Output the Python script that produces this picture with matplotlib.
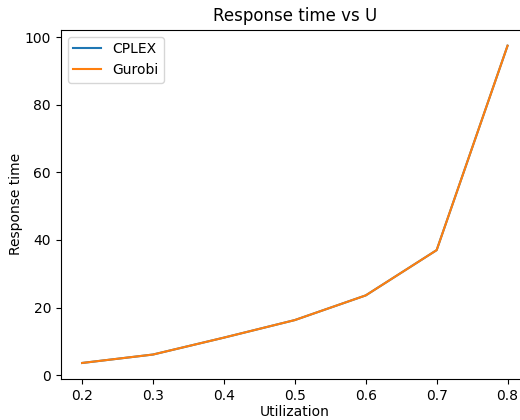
import matplotlib
matplotlib.use("Agg")
import matplotlib.pyplot as plt

# utilization levels and mean response times per solver
utilization = [0.2, 0.3, 0.4, 0.5, 0.6, 0.7, 0.8]
cplex_resp = [3.6, 6.1, 11.1, 16.3, 23.6, 37.0, 97.5]
gurobi_resp = [3.6, 6.1, 11.1, 16.3, 23.6, 37.0, 97.5]

fig = plt.figure(figsize=(5.2, 4.2), dpi=100)
# axes run slightly past the right edge, like the cropped original
ax = fig.add_axes([0.117, 0.098, 0.9, 0.831])

ax.plot(utilization, cplex_resp, label="CPLEX")
ax.plot(utilization, gurobi_resp, label="Gurobi")

ax.set_title("Response time vs U")
ax.set_xlabel("Utilization", labelpad=1.8)
ax.set_ylabel("Response time", labelpad=1.5)
ax.legend(loc="upper left")

fig.savefig("out.png", dpi=100)
